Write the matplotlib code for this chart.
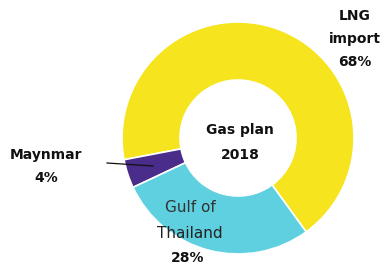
import matplotlib
matplotlib.use("Agg")
import matplotlib.pyplot as plt

# ----------- Data -----------

sources = ["LNG import", "Maynmar", "Gulf of Thailand"]
shares = [68, 4, 28]
colors = ["#F6E41F", "#4A2C8A", "#5ED0E0"]

# ----------- Figure -----------

fig = plt.figure(figsize=(3.84, 2.68), dpi=100)
ax = fig.add_axes([0, 0, 1, 1])

# pixel-like coordinates, y up
ax.pie(shares, colors=colors, startangle=-54, counterclock=True,
       center=(238, 130), radius=116,
       wedgeprops=dict(width=58, edgecolor="white", linewidth=1.2))

ax.set_xlim(0, 384)
ax.set_ylim(0, 268)
ax.set_aspect("equal")
ax.axis("off")

bold = dict(fontweight="bold", fontsize=10, color="#111111",
            ha="center", va="center", family="DejaVu Sans")

# center title
ax.text(240, 268 - 130, "Gas plan", **bold)
ax.text(240, 268 - 155, "2018", **bold)

# LNG label
ax.text(355, 268 - 16, "LNG", **bold)
ax.text(355, 268 - 39, "import", **bold)
ax.text(355, 268 - 62, f"{shares[0]}%", **bold)

# Myanmar label + leader
ax.text(46, 268 - 155, "Maynmar", **bold)
ax.text(46, 268 - 178, f"{shares[1]}%", **bold)
ax.plot([107, 153], [268 - 163, 268 - 166], color="#111111", lw=0.9)

# Gulf of Thailand label
ax.text(190, 268 - 208, "Gulf of", fontsize=11, color="#333333",
        ha="center", va="center")
ax.text(190, 268 - 234, "Thailand", fontsize=11, color="#222222",
        ha="center", va="center")
ax.text(188, 268 - 258, f"{shares[2]}%", **bold)

fig.savefig("out.png", dpi=100)
